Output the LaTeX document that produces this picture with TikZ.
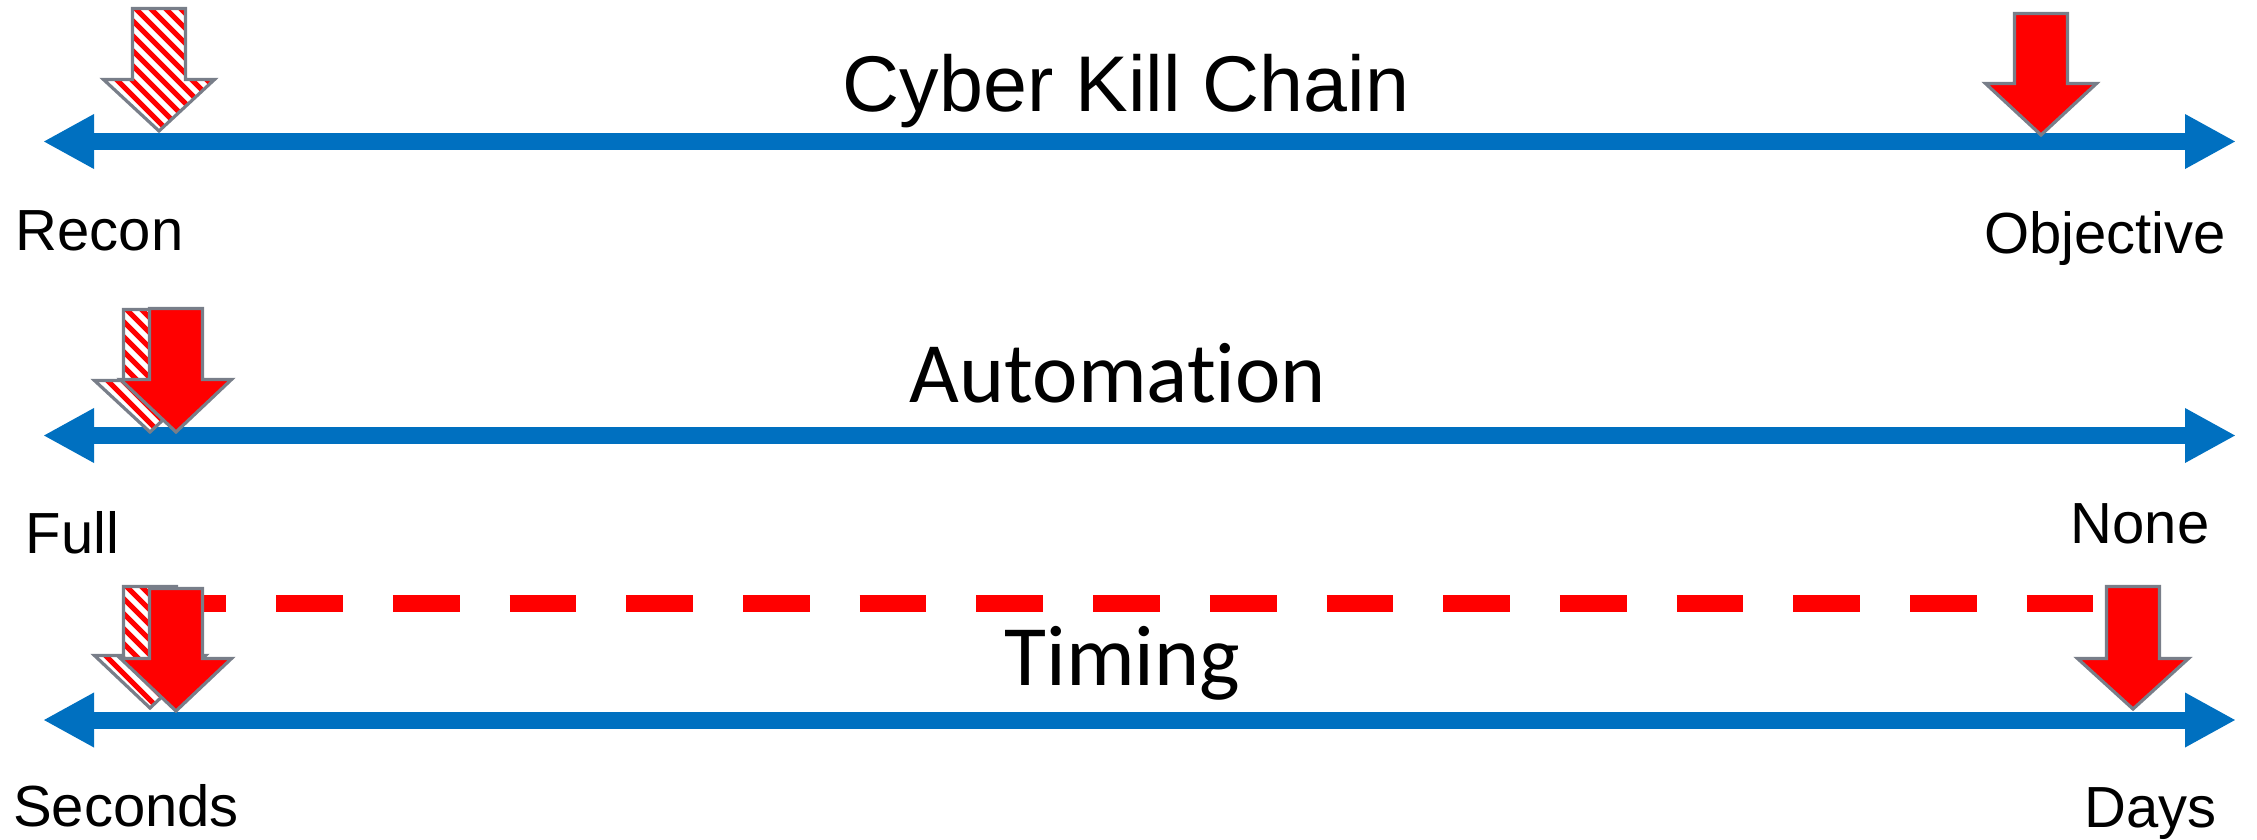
\documentclass[tikz,border=0pt]{standalone}
\usepackage{fontspec}
\setmainfont{Liberation Sans}
\newfontfamily\calfont[Ligatures=NoCommon]{Carlito}
\usetikzlibrary{arrows.meta}

\definecolor{lineblue}{HTML}{0070C0}
\definecolor{markred}{HTML}{FF0000}
\definecolor{edgegray}{RGB}{120,126,137}

\tikzset{
  timeline/.style={draw=lineblue, line width=17,
    {Triangle[length=51pt,width=51pt]}-{Triangle[length=51pt,width=51pt]}},
  mkedge/.style={draw=edgegray, line width=3.2, line join=miter},
  solidmk/.style={mkedge, fill=markred},
  stripe/.style={draw=markred, line width=5},
  headline/.style={inner sep=0, anchor=base, font=\fontsize{79}{79}\selectfont},
  calhead/.style={inner sep=0, anchor=base, font=\calfont\fontsize{86}{86}\selectfont},
  endlabel/.style={inner sep=0, anchor=base west, font=\fontsize{58}{58}\selectfont},
  gapline/.style={draw=markred, line width=17, dash pattern=on 66.7pt off 50pt}
}

% down-pointing block marker: centre x, top, top of head, tip
\newcommand{\solidmarker}[4]{%
  \filldraw[solidmk] (#1-26.5,#2+1.5) -- (#1+26.5,#2+1.5) -- (#1+26.5,#3+1.5)
    -- (#1+55.5,#3+1.5) -- (#1,#4-2) -- (#1-55.5,#3+1.5) -- (#1-26.5,#3+1.5) -- cycle;}
\newcommand{\hatchmarker}[4]{%
  \fill[white] (#1-26.5,#2+1.5) -- (#1+26.5,#2+1.5) -- (#1+26.5,#3+1.5)
    -- (#1+55.5,#3+1.5) -- (#1,#4-2) -- (#1-55.5,#3+1.5) -- (#1-26.5,#3+1.5) -- cycle;
  \begin{scope}
    \clip (#1-26.5,#2+1.5) -- (#1+26.5,#2+1.5) -- (#1+26.5,#3+1.5)
      -- (#1+55.5,#3+1.5) -- (#1,#4-2) -- (#1-55.5,#3+1.5) -- (#1-26.5,#3+1.5) -- cycle;
    \foreach \k in {-14,...,5} \draw[stripe] (#1+\k*15,#2-5) -- ++(150,150);
  \end{scope}
  \draw[mkedge] (#1-26.5,#2+1.5) -- (#1+26.5,#2+1.5) -- (#1+26.5,#3+1.5)
    -- (#1+55.5,#3+1.5) -- (#1,#4-2) -- (#1-55.5,#3+1.5) -- (#1-26.5,#3+1.5) -- cycle;}

\begin{document}
\begin{tikzpicture}[x=1pt, y=-1pt]
\useasboundingbox (0,0) rectangle (2257,839);

% ---------- Cyber Kill Chain ----------
\coordinate (kcL) at (43,141.5);
\coordinate (kcR) at (2236,141.5);
\draw[timeline] (kcL) -- (kcR);
\node[headline] (kctitle) at (1126,111) {Cyber Kill Chain};
\node[endlabel] (recon) at (15.5,250) {Recon};
\node[endlabel] (objective) at (1984,253) {Objective};
\hatchmarker{159}{7}{78}{133}
\solidmarker{2041}{12}{82}{137}

% ---------- Automation ----------
\coordinate (auL) at (43,435.5);
\coordinate (auR) at (2236,435.5);
\draw[timeline] (auL) -- (auR);
\node[calhead] (autitle) at (1118,402) {Automation};
\node[endlabel] (full) at (25.5,553) {Full};
\node[endlabel] (none) at (2070.5,543) {None};
\hatchmarker{150}{308}{379}{434}
\solidmarker{176}{307}{378}{434}

% ---------- Timing ----------
\coordinate (tmL) at (43,720);
\coordinate (tmR) at (2236,720);
\coordinate (gapL) at (159.5,603.5);
\coordinate (gapR) at (2093,603.5);
\draw[timeline] (tmL) -- (tmR);
\draw[gapline] (gapL) -- (gapR);
\node[calhead] (tmtitle) at (1122.5,685) {Timing};
\node[endlabel] (seconds) at (13,826) {Seconds};
\node[endlabel] (days) at (2084,827) {Days};
\hatchmarker{150}{585}{654}{710}
\solidmarker{176}{587}{657}{713}
\solidmarker{2133}{585}{657}{711}
\end{tikzpicture}
\end{document}
